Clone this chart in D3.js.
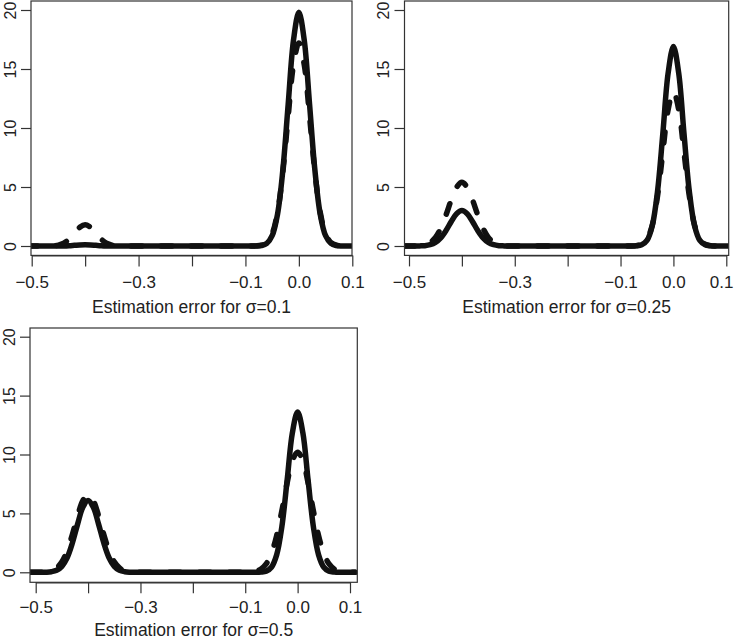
<!DOCTYPE html>
<html lang="en">

<head>
    <meta charset="UTF-8">
    <title>Estimation error densities</title>
    <script src="https://d3js.org/d3.v7.min.js"></script>
    <style>
        body {
            margin: 0;
            background: #fff;
        }

        text {
            font-family: "Liberation Sans", Arial, sans-serif;
            fill: #222;
        }
    </style>
</head>

<body>
    <svg id="chart" width="734" height="639"></svg>
    <script>
        // shared x grid of the density estimates
        let xGrid = [-0.51, -0.50, -0.49, -0.48, -0.47, -0.46, -0.45, -0.44, -0.43, -0.42, -0.41,
            -0.40, -0.39, -0.38, -0.37, -0.36, -0.35, -0.34, -0.33, -0.32, -0.31, -0.30, -0.29,
            -0.28, -0.27, -0.26, -0.25, -0.24, -0.23, -0.22, -0.21, -0.20, -0.19, -0.18, -0.17,
            -0.16, -0.15, -0.14, -0.13, -0.12, -0.11, -0.10, -0.09, -0.08, -0.07, -0.06, -0.05,
            -0.04, -0.03, -0.02, -0.01, 0.00, 0.01, 0.02, 0.03, 0.04, 0.05, 0.06, 0.07, 0.08,
            0.09, 0.10, 0.11]

        // sigma = 0.1
        let solid010 = [0, 0, 0,
            0, 0, 0, 0, 0.01, 0.03, 0.06, 0.09, 0.10, 0.09, 0.06, 0.03, 0.01, 0, 0, 0, 0,
            0, 0, 0, 0, 0, 0, 0, 0, 0, 0, 0, 0, 0, 0, 0, 0, 0, 0, 0, 0, 0, 0, 0,
            0, 0.04, 0.22, 0.87, 2.68, 6.43, 12.01, 17.47, 19.8, 17.47, 12.01, 6.43, 2.68, 0.87, 0.22, 0.04, 0,
            0, 0, 0]
        let dashed010 = [0, 0, 0,
            0, 0, 0.02, 0.08, 0.24, 0.58, 1.09, 1.59, 1.8, 1.59, 1.09, 0.58, 0.24, 0.08, 0.02, 0, 0,
            0, 0, 0, 0, 0, 0, 0, 0, 0, 0, 0, 0, 0, 0, 0, 0, 0, 0, 0, 0, 0, 0, 0,
            0.01, 0.07, 0.30, 1.04, 2.85, 6.26, 10.97, 15.37, 17.2, 15.37, 10.97, 6.26, 2.85, 1.04, 0.30, 0.07, 0.01,
            0, 0, 0]

        // sigma = 0.25
        let solid025 = [0, 0, 0,
            0.01, 0.03, 0.11, 0.30, 0.69, 1.31, 2.08, 2.74, 3.0, 2.74, 2.08, 1.31, 0.69, 0.30, 0.11, 0.03, 0.01,
            0, 0, 0, 0, 0, 0, 0, 0, 0, 0, 0, 0, 0, 0, 0, 0, 0, 0, 0, 0, 0, 0, 0,
            0, 0.02, 0.10, 0.47, 1.71, 4.66, 9.53, 14.65, 16.9, 14.65, 9.53, 4.66, 1.71, 0.47, 0.10, 0.02, 0,
            0, 0, 0]
        let dashed025 = [0, 0, 0,
            0.03, 0.11, 0.30, 0.73, 1.50, 2.63, 3.92, 4.98, 5.4, 4.98, 3.92, 2.63, 1.50, 0.73, 0.30, 0.11, 0.03,
            0, 0, 0, 0, 0, 0, 0, 0, 0, 0, 0, 0, 0, 0, 0, 0, 0, 0, 0, 0, 0, 0, 0,
            0, 0.03, 0.15, 0.58, 1.77, 4.25, 7.95, 11.56, 13.1, 11.56, 7.95, 4.25, 1.77, 0.58, 0.15, 0.03, 0,
            0, 0, 0]

        // sigma = 0.5
        let solid050 = [0, 0, 0,
            0.01, 0.05, 0.17, 0.51, 1.24, 2.49, 4.09, 5.52, 6.1, 5.52, 4.09, 2.49, 1.24, 0.51, 0.17, 0.05, 0.01,
            0, 0, 0, 0, 0, 0, 0, 0, 0, 0, 0, 0, 0, 0, 0, 0, 0, 0, 0, 0, 0, 0, 0,
            0, 0.02, 0.09, 0.43, 1.48, 3.90, 7.82, 11.85, 13.6, 11.85, 7.82, 3.90, 1.48, 0.43, 0.09, 0.02, 0,
            0, 0, 0]
        let dashed050 = [0, 0, 0,
            0.04, 0.13, 0.37, 0.89, 1.83, 3.21, 4.79, 6.09, 6.6, 6.09, 4.79, 3.21, 1.83, 0.89, 0.37, 0.13, 0.04,
            0, 0, 0, 0, 0, 0, 0, 0, 0, 0, 0, 0, 0, 0, 0, 0, 0, 0, 0, 0, 0, 0, 0,
            0.09, 0.27, 0.71, 1.60, 3.12, 5.24, 7.59, 9.48, 10.2, 9.48, 7.59, 5.24, 3.12, 1.60, 0.71, 0.27, 0.09,
            0, 0, 0]

        let xTicks = [-0.5, -0.4, -0.3, -0.2, -0.1, 0.0, 0.1]
        let xTickLabels = ["\u22120.5", "", "\u22120.3", "", "\u22120.1", "0.0", "0.1"]
        let yTicks = [0, 5, 10, 15, 20]
        let titles = ["Estimation error for \u03c3=0.1", "Estimation error for \u03c3=0.25", "Estimation error for \u03c3=0.5"]

        // where each panel sits on the page
        let panels = [
            { solid: solid010, dashed: dashed010, box: [31, 1, 352, 255.4], xr: [31.7, 352.3], yr: [246, 10], pad: 10, titleY: 313 },
            { solid: solid025, dashed: dashed025, box: [404.5, 1, 728.7, 255.4], xr: [409, 726.3], yr: [246, 10], pad: 10, titleY: 313 },
            { solid: solid050, dashed: dashed050, box: [30, 328, 357.3, 582.3], xr: [35.7, 350], yr: [572.3, 336.7], pad: 8, titleY: 636 }
        ]

        let svg = d3.select("#chart")
        let pageWidth = 734

        panels.forEach(function (p, i) {
            let x = d3.scaleLinear().domain([-0.5, 0.1]).range(p.xr)
            let y = d3.scaleLinear().domain([0, 20]).range(p.yr)
            let [bx0, by0, bx1, by1] = p.box

            svg.append("clipPath").attr("id", "clip" + i)
                .append("rect")
                .attr("x", bx0).attr("y", by0)
                .attr("width", bx1 - bx0).attr("height", by1 - by0)

            let line = d3.line()
                .x((d, j) => x(xGrid[j]))
                .y(d => y(d))
                .curve(d3.curveCatmullRom)

            let g = svg.append("g").attr("clip-path", "url(#clip" + i + ")")
            g.append("path")
                .attr("d", line(p.solid))
                .attr("fill", "none")
                .attr("stroke", "#111")
                .attr("stroke-width", 5.5)
                .attr("stroke-linecap", "round")
                .attr("stroke-linejoin", "round")
            g.append("path")
                .attr("d", line(p.dashed))
                .attr("fill", "none")
                .attr("stroke", "#111")
                .attr("stroke-width", 5.5)
                .attr("stroke-linecap", "round")
                .attr("stroke-dasharray", "11,19")

            // box
            svg.append("rect")
                .attr("x", bx0).attr("y", by0)
                .attr("width", bx1 - bx0).attr("height", by1 - by0)
                .attr("fill", "none")
                .attr("stroke", "#333")
                .attr("stroke-width", 1.2)

            let xAxis = svg.append("g")
                .attr("transform", "translate(0," + by1 + ")")
                .call(d3.axisBottom(x)
                    .tickValues(xTicks)
                    .tickFormat((d, j) => xTickLabels[j])
                    .tickSize(11)
                    .tickSizeOuter(0)
                    .tickPadding(p.pad))
            xAxis.selectAll("line").attr("stroke", "#333").attr("stroke-width", 1.2)
            xAxis.select(".domain").attr("stroke", "#333").attr("stroke-width", 1.2)
            xAxis.selectAll("text").style("font-size", "17px").attr("fill", "#222")
            // keep the last label inside the page edge
            xAxis.selectAll("text").each(function (d) {
                let t = d3.select(this)
                let over = x(d) + this.getComputedTextLength() / 2 - (pageWidth - 1)
                if (over > 0) t.attr("x", -over)
            })

            let yAxis = svg.append("g")
                .attr("transform", "translate(" + bx0 + ",0)")
                .call(d3.axisLeft(y)
                    .tickValues(yTicks)
                    .tickSize(10)
                    .tickSizeOuter(0))
            yAxis.select(".domain").remove()
            yAxis.selectAll("line").attr("stroke", "#333").attr("stroke-width", 1.2)
            yAxis.selectAll("text")
                .style("font-size", "16px")
                .attr("fill", "#222")
                .attr("transform", "rotate(-90)")
                .attr("x", 0)
                .attr("y", -21)
                .attr("dy", "0.35em")
                .attr("text-anchor", "middle")

            svg.append("text")
                .attr("x", (bx0 + bx1) / 2)
                .attr("y", p.titleY)
                .attr("text-anchor", "middle")
                .style("font-size", "17.5px")
                .text(titles[i])
        })
    </script>
</body>

</html>
